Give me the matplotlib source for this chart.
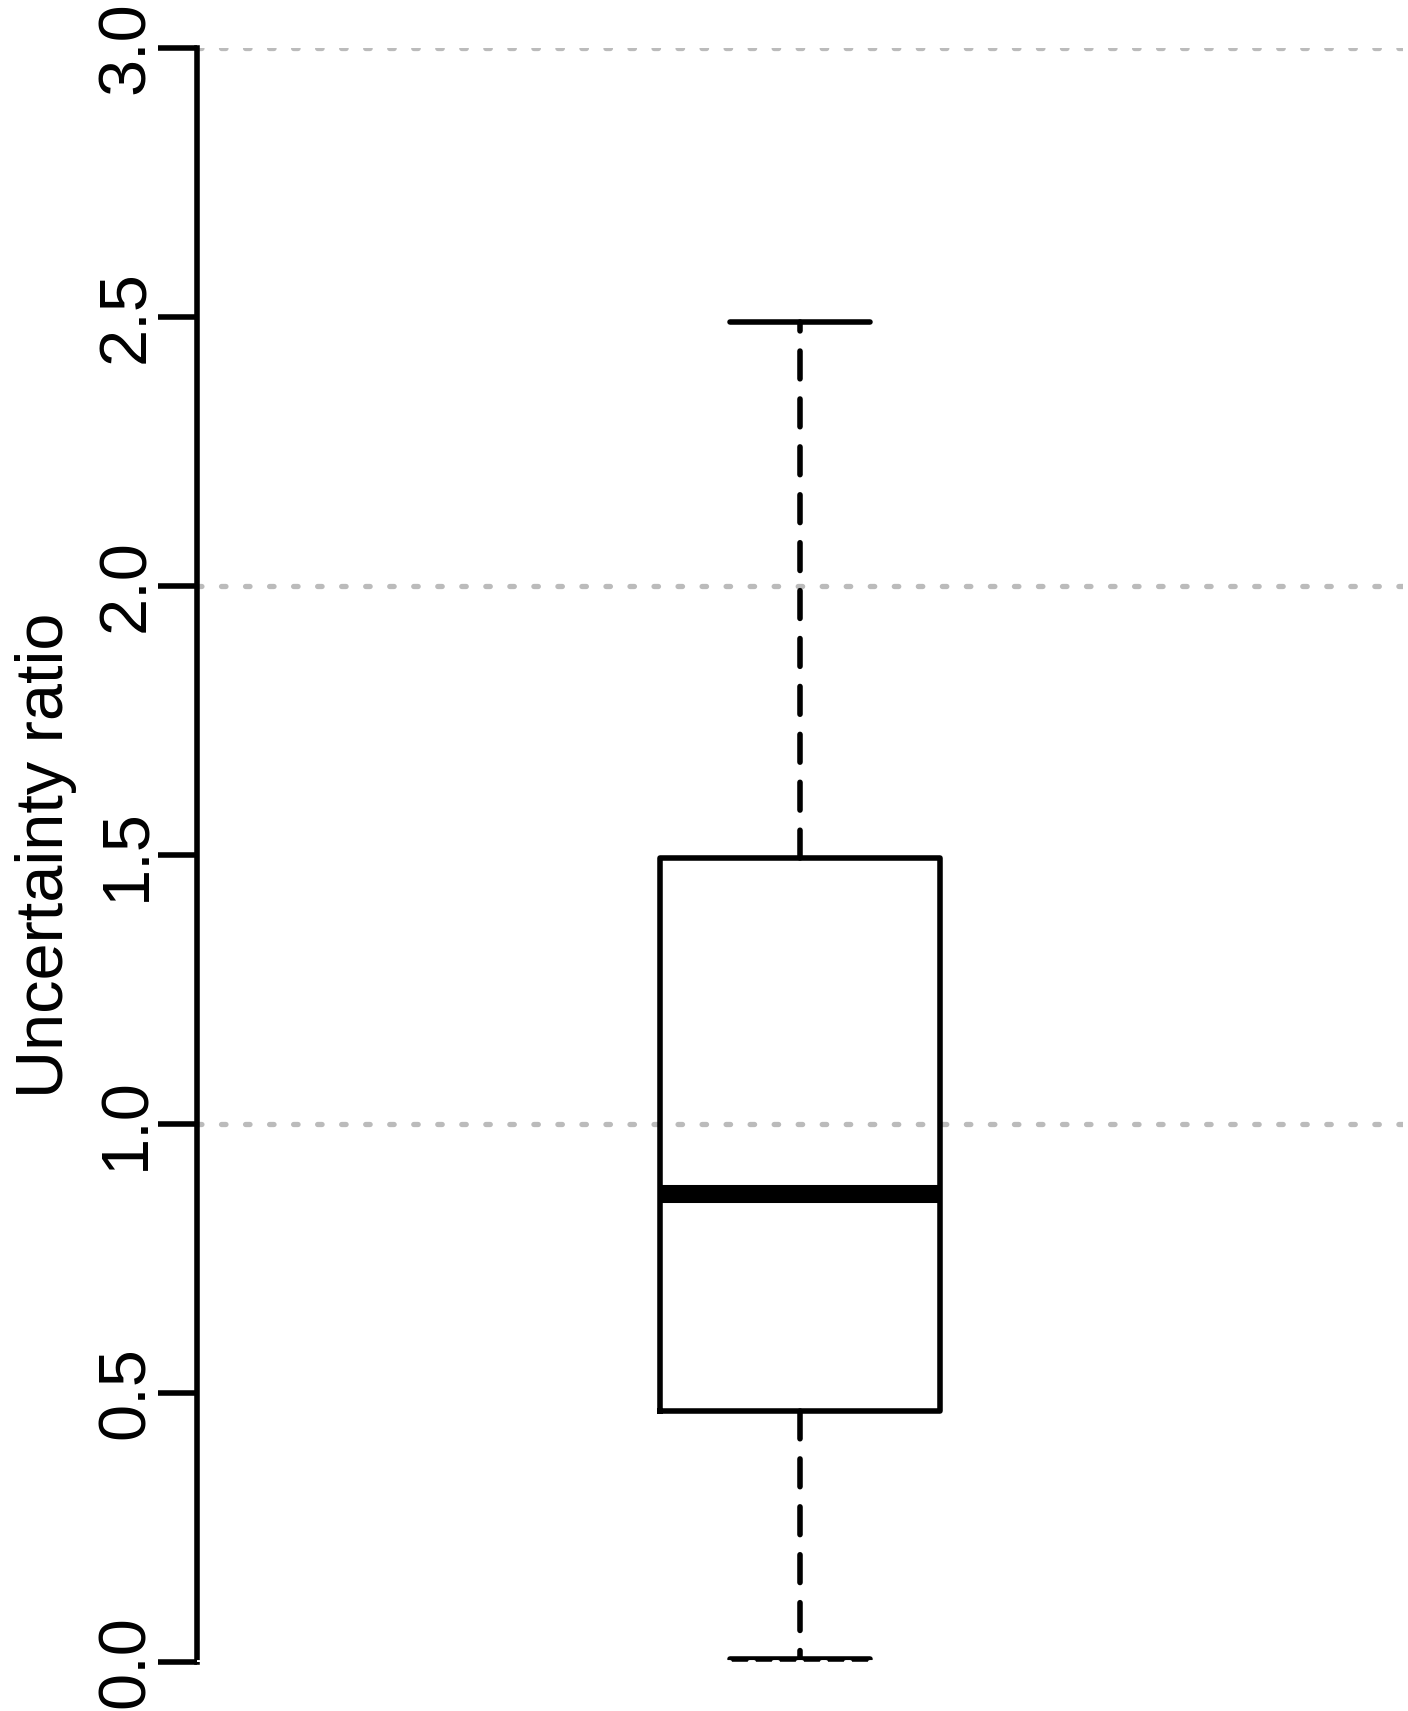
import matplotlib
matplotlib.use("Agg")
import matplotlib.pyplot as plt

plt.rcParams['font.family'] = ['Liberation Sans', 'DejaVu Sans']
plt.rcParams['lines.scale_dashes'] = False

# Data (summary statistics)
group_labels = [""]
q1_values = [0.466]
median_values = [0.87]
q3_values = [1.494]
whisker_low = [0.006]
whisker_high = [2.49]
y_ticks = [0.0, 0.5, 1.0, 1.5, 2.0, 2.5, 3.0]
y_tick_labels = ["0.0", "0.5", "1.0", "1.5", "2.0", "2.5", "3.0"]
grid_levels = [1.0, 2.0, 3.0]
y_label = "Uncertainty ratio"

W, H = 1408, 1711
fig = plt.figure(figsize=(W / 100, H / 100), dpi=100)
left, right = 197 / W, 1403 / W
bottom, top = 1 - 1662 / H, 1 - 48 / H
ax = fig.add_axes([left, bottom, right - left, top - bottom])

stats = []
for i in range(len(group_labels)):
    stats.append(dict(label=group_labels[i], q1=q1_values[i], med=median_values[i],
                      q3=q3_values[i], whislo=whisker_low[i], whishi=whisker_high[i],
                      fliers=[]))

lw = 4.0
for g in grid_levels:
    ax.axhline(g, color="#BBBBBB", lw=3.8, linestyle=(0, (3.2, 14.1)),
               dash_capstyle="round", zorder=1)

ax.bxp(stats, positions=[1], widths=0.25, showfliers=False, patch_artist=False,
       boxprops=dict(color="black", lw=lw, solid_joinstyle="round", zorder=3),
       medianprops=dict(color="black", lw=13, solid_capstyle="butt", zorder=4),
       whiskerprops=dict(color="black", lw=lw, linestyle=(0, (20, 14.5)),
                         dash_capstyle="round", zorder=2),
       capprops=dict(color="black", lw=lw, solid_capstyle="round", zorder=3),
       capwidths=0.125, manage_ticks=False)

# white dotted line at zero (drawn over the lower cap, clipped at axes bottom)
ax.axhline(0.0, color="white", lw=2.8, linestyle=(0, (3.2, 14.1)),
           dash_capstyle="round", zorder=5)

ax.set_xlim(0.46, 1.54)
ax.set_ylim(0, 3)
for s in ["top", "right", "bottom"]:
    ax.spines[s].set_visible(False)
ax.spines["left"].set_linewidth(lw)
ax.spines["left"].set_capstyle("projecting")
ax.set_xticks([])
ax.set_yticks(y_ticks)
ax.set_yticklabels(y_tick_labels, rotation=90, va="center", fontsize=48)
ax.tick_params(axis="y", direction="out", length=28, width=lw, pad=0)

fig.text(15 / W, 0.5 * (bottom + top), y_label, rotation=90, ha="left", va="center",
         fontsize=48)

fig.savefig("out.png", dpi=100)
